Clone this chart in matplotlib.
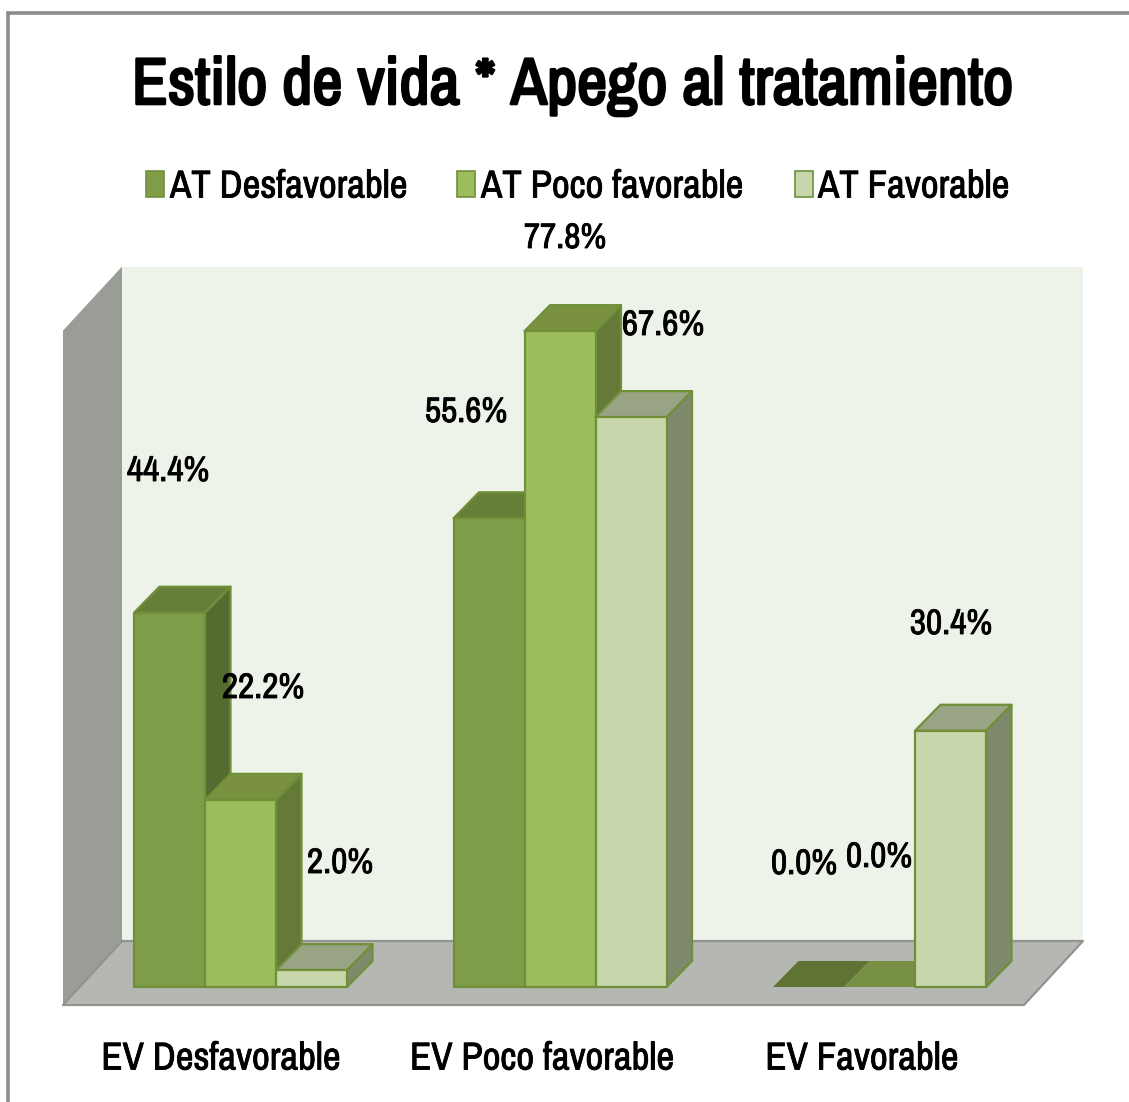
import matplotlib
matplotlib.use('Agg')
import matplotlib.pyplot as plt
import matplotlib.patheffects as pe
from matplotlib.patches import Polygon, Rectangle

title = 'Estilo de vida * Apego al tratamiento'
categories = ['EV Desfavorable', 'EV Poco favorable', 'EV Favorable']
series_names = ['AT Desfavorable', 'AT Poco favorable', 'AT Favorable']
at_desfavorable = [44.4, 55.6, 0.0]
at_poco_favorable = [22.2, 77.8, 0.0]
at_favorable = [2.0, 67.6, 30.4]
axis_max = 80

W, H = 1129, 1102
BAR_PX = 71.0
GROUP_PX = 319.5
LEFT_PX = 134.0
BASE_PX = 987.0
SCALE_PX = 8.43
DEPTH_X = 25.5 / BAR_PX
DEPTH_Y = 26.0 / SCALE_PX

front_colors = ['#7f9c48', '#9dbd5c', '#c8d6ac']
top_colors = ['#667e38', '#7a9140', '#98a484']
side_colors = ['#556b30', '#657a38', '#7f8a6c']
edge_color = '#6f9038'

plt.rcParams['font.family'] = ['Archivo Narrow', 'Liberation Sans', 'DejaVu Sans']

fig = plt.figure(figsize=(W / 100, H / 100), dpi=100)
ax = fig.add_axes([0, 0, 1, 1])
# x is in bar widths from the first bar, y is in percent
ax.set_xlim(-LEFT_PX / BAR_PX, (W - LEFT_PX) / BAR_PX)
ax.set_ylim((BASE_PX - H) / SCALE_PX, BASE_PX / SCALE_PX)
ax.axis('off')

# the narrow font has no bold here, so thicken it with a stroke
thin_stroke = [pe.withStroke(linewidth=0.6, foreground='black')]
title_stroke = [pe.withStroke(linewidth=1.9, foreground='black')]


def px(x):
    return (x - LEFT_PX) / BAR_PX


def py(y):
    return (BASE_PX - y) / SCALE_PX


def poly(points, color, edge=None, lw=0, z=1):
    ax.add_patch(Polygon(points, closed=True, facecolor=color, edgecolor=edge or color,
                         linewidth=lw, zorder=z, joinstyle='round'))


# outer frame
ax.plot([px(8), px(8), px(1129)], [py(1102), py(13), py(13)], color='#8c8c8c', lw=2.6, zorder=1,
        solid_joinstyle='miter')

# back wall, left wall, floor
wall_top = py(1005) + axis_max
back_top = py(941) + axis_max
poly([(px(122), py(941)), (px(122), back_top), (px(1083), back_top), (px(1083), py(941))], '#eef3ea')
poly([(px(63), py(1005)), (px(63), wall_top), (px(122), back_top), (px(122), py(941))], '#9a9c96')
poly([(px(63), py(1005)), (px(122), py(941)), (px(1083), py(941)), (px(1024), py(1005))], '#b5b7b2')
ax.plot([px(122), px(1083), px(1024), px(63), px(122)],
        [py(941), py(941), py(1005), py(1005), py(941)], color='#919391', lw=1.6, zorder=1.5)

values = [at_desfavorable, at_poco_favorable, at_favorable]
z = 2
for g in range(len(categories)):
    for s in range(len(series_names)):
        v = values[s][g]
        x0 = g * GROUP_PX / BAR_PX + s
        x1 = x0 + 1
        if v == 0:
            # empty bars only show a flat top
            poly([(x0, 0), (x0 + DEPTH_X, DEPTH_Y), (x1 + DEPTH_X, DEPTH_Y), (x1, 0)],
                 ['#5f7333', '#768f43'][s], z=z)
            z += 1
            continue
        poly([(x1, 0), (x1 + DEPTH_X, DEPTH_Y), (x1 + DEPTH_X, v + DEPTH_Y), (x1, v)],
             side_colors[s], edge_color, 1.6, z)
        poly([(x0, v), (x0 + DEPTH_X, v + DEPTH_Y), (x1 + DEPTH_X, v + DEPTH_Y), (x1, v)],
             top_colors[s], edge_color, 1.6, z)
        poly([(x0, 0), (x0, v), (x1, v), (x1, 0)], front_colors[s], edge_color, 1.6, z + 0.5)
        z += 1

# data labels sit wherever the original placed them
label_pos = [[(168, 471), (466, 412), (804, 864)],
             [(263, 688), (565, 238), (879, 857)],
             [(340, 863), (663, 325), (951, 624)]]
for s in range(len(series_names)):
    for g in range(len(categories)):
        lx, ly = label_pos[s][g]
        ax.text(px(lx), py(ly), '%.1f%%' % values[s][g], fontsize=25.5, ha='center', va='center',
                color='black', zorder=50, path_effects=thin_stroke)

ax.text(px(572.5), py(86), title, fontsize=47.5, ha='center', va='center', zorder=50,
        path_effects=title_stroke)

# legend
swatch_x = [146, 457, 795]
text_x = [170, 481, 818]
for s, name in enumerate(series_names):
    ax.add_patch(Rectangle((px(swatch_x[s]), py(197)), 18 / BAR_PX, 26 / SCALE_PX,
                           facecolor=front_colors[s], edgecolor=edge_color, lw=1.2, zorder=5))
    ax.text(px(text_x[s]), py(187), name, fontsize=28, ha='left', va='center', zorder=50,
            path_effects=thin_stroke)

cat_x = [221, 542, 862]
for g, name in enumerate(categories):
    ax.text(px(cat_x[g]), py(1059), name, fontsize=28, ha='center', va='center', zorder=50,
            path_effects=thin_stroke)

fig.savefig('out.png', dpi=100, facecolor='white')
